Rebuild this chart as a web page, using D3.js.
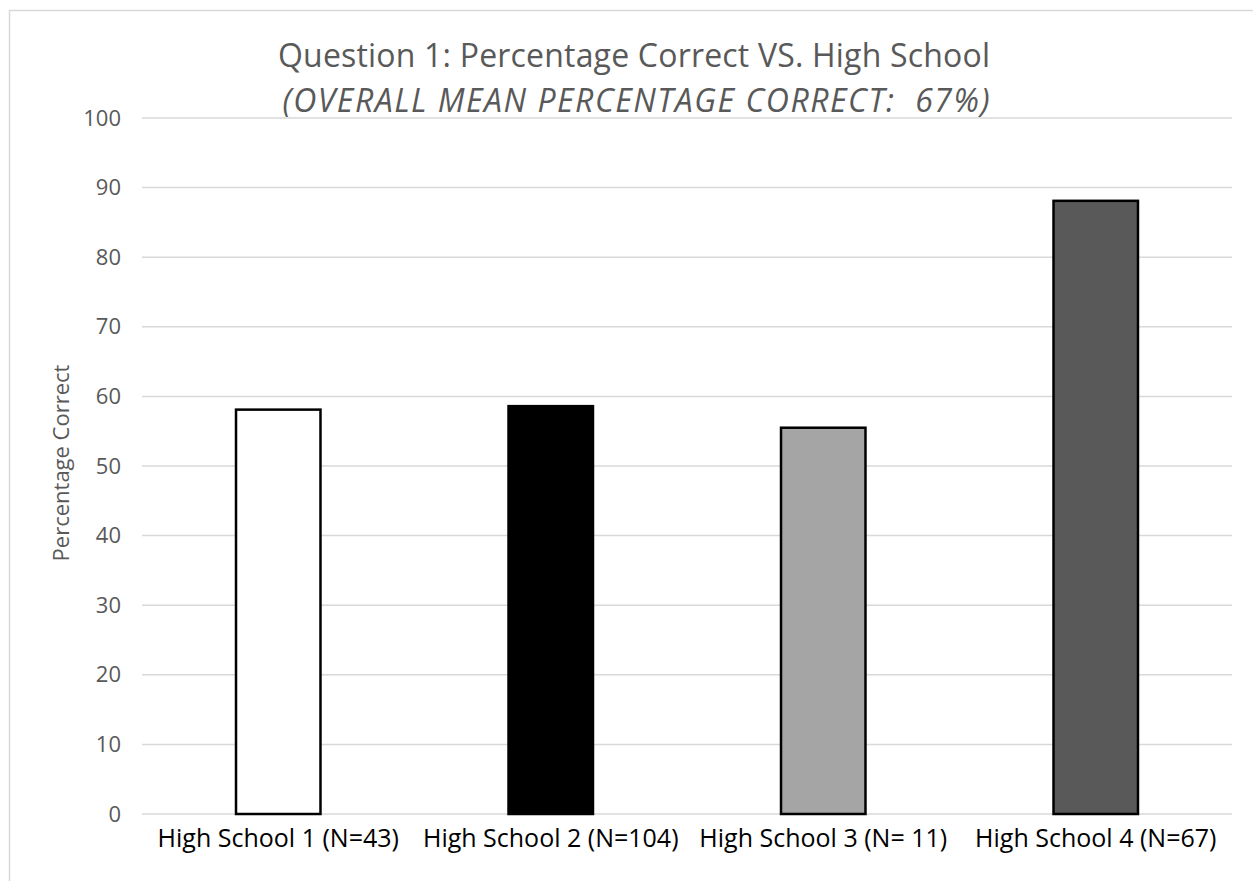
<!DOCTYPE html>
<html>
<head>
<meta charset="utf-8">
<script src="https://cdn.jsdelivr.net/npm/d3@7"></script>
<style>
  body { margin: 0; background: #fff; }
  svg { display: block; font-family: "Open Sans", sans-serif; }
</style>
</head>
<body>
<div id="chart"></div>
<script>
(function() {
  const width = 1253, height = 881;

  // chart data
  const schools = ["High School 1 (N=43)", "High School 2 (N=104)", "High School 3 (N= 11)", "High School 4 (N=67)"];
  const pctCorrect = [58.1, 58.6, 55.5, 88.1];
  const barColors = ["#ffffff", "#000000", "#a5a5a5", "#595959"];
  const yTicks = [0, 10, 20, 30, 40, 50, 60, 70, 80, 90, 100];

  const margin = { top: 118, right: 21, bottom: 67, left: 142 };

  const svg = d3.select("#chart").append("svg")
    .attr("width", width)
    .attr("height", height);

  // chart frame
  svg.append("rect")
    .attr("x", 9.5).attr("y", 10.5)
    .attr("width", width + 10).attr("height", height + 10)
    .attr("fill", "none")
    .attr("stroke", "#d9d9d9")
    .attr("stroke-width", 1.5);

  const x = d3.scaleBand()
    .domain(schools)
    .range([margin.left, width - margin.right])
    .paddingInner(0.69)
    .paddingOuter(0.345);

  const y = d3.scaleLinear()
    .domain([0, 100])
    .range([height - margin.bottom, margin.top]);

  // gridlines
  svg.append("g")
    .selectAll("line")
    .data(yTicks)
    .join("line")
    .attr("x1", margin.left)
    .attr("x2", width - margin.right)
    .attr("y1", d => y(d))
    .attr("y2", d => y(d))
    .attr("stroke", "#d9d9d9")
    .attr("stroke-width", 1.5);

  // y axis labels
  const yAxis = svg.append("g")
    .attr("transform", `translate(${margin.left - 21},0)`)
    .call(d3.axisLeft(y).tickValues(yTicks).tickSize(0).tickPadding(0));
  yAxis.select(".domain").remove();
  yAxis.selectAll("text")
    .attr("fill", "#595959")
    .style("font-size", "22px")
    .style("font-family", "'Open Sans', sans-serif");

  // bars
  svg.append("g")
    .selectAll("rect")
    .data(schools)
    .join("rect")
    .attr("x", d => x(d))
    .attr("width", x.bandwidth())
    .attr("y", (d, i) => y(pctCorrect[i]))
    .attr("height", (d, i) => y(0) - y(pctCorrect[i]))
    .attr("fill", (d, i) => barColors[i])
    .attr("stroke", "#000")
    .attr("stroke-width", 2.5);

  // x axis labels
  const xAxis = svg.append("g")
    .attr("transform", `translate(0,${y(0) + 33})`)
    .call(d3.axisBottom(x).tickSize(0).tickPadding(0));
  xAxis.select(".domain").remove();
  xAxis.selectAll("text")
    .attr("fill", "#000")
    .attr("dy", "0")
    .style("font-size", "25px")
    .style("font-family", "'Open Sans', sans-serif");

  // y axis title
  svg.append("text")
    .attr("transform", `translate(69,${(y(0) + y(100)) / 2 - 3}) rotate(-90)`)
    .attr("text-anchor", "middle")
    .attr("fill", "#595959")
    .style("font-size", "22px")
    .text("Percentage Correct");

  // title
  const title = svg.append("text")
    .attr("text-anchor", "middle")
    .attr("fill", "#595959")
    .style("font-size", "32px")
    .style("white-space", "pre");
  title.append("tspan")
    .attr("x", 634).attr("y", 67)
    .attr("textLength", 712)
    .attr("lengthAdjust", "spacing")
    .text("Question 1: Percentage Correct VS. High School");
  title.append("tspan")
    .attr("x", 636).attr("y", 112)
    .attr("textLength", 707)
    .attr("lengthAdjust", "spacing")
    .style("font-style", "italic")
    .text("(OVERALL MEAN PERCENTAGE CORRECT:  67%)");
})();
</script>
</body>
</html>
